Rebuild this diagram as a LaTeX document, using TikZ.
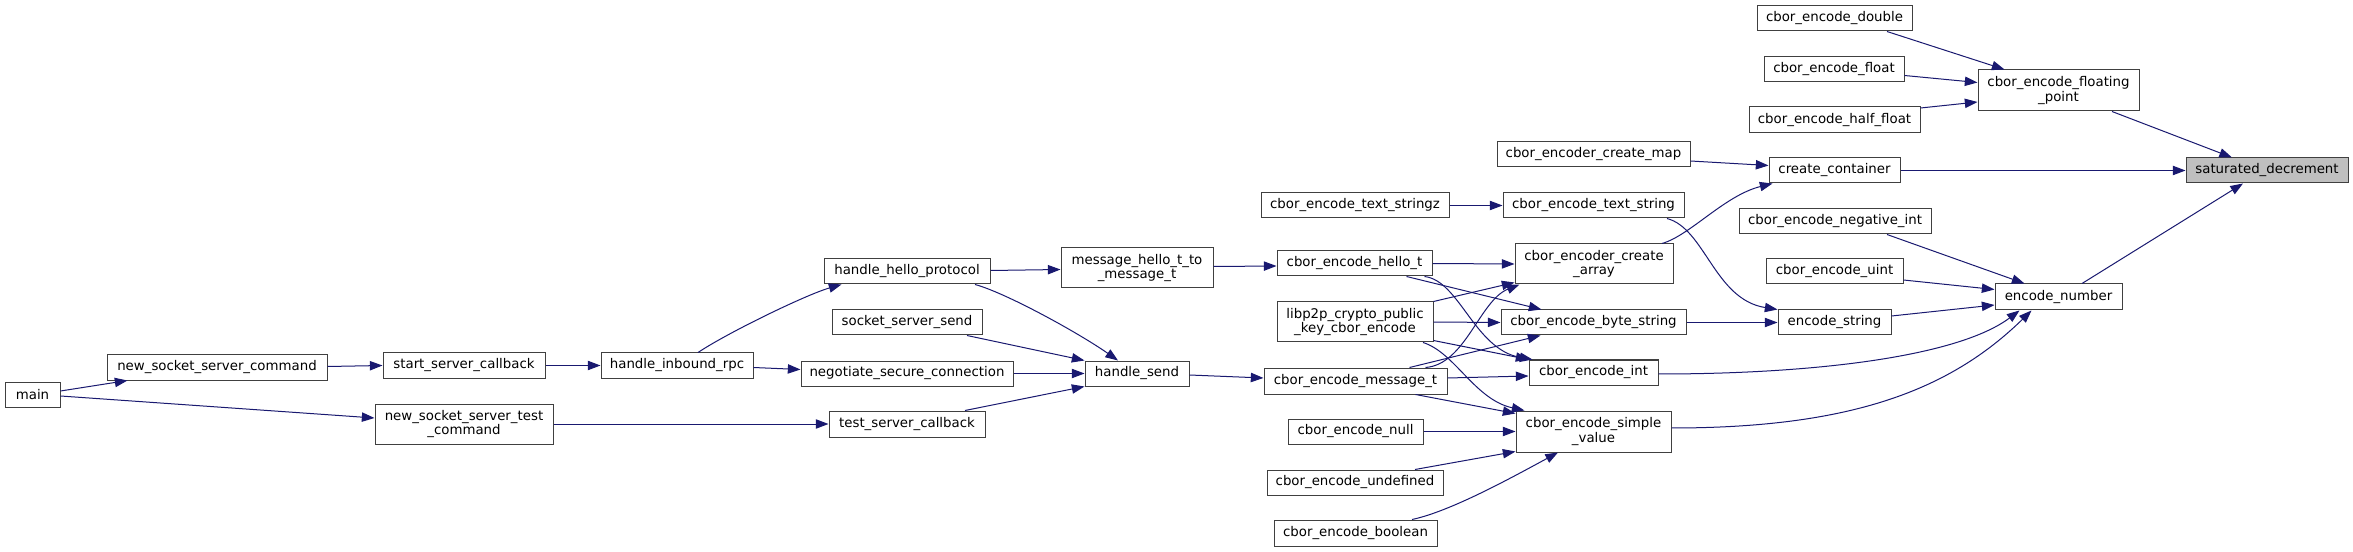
\documentclass[tikz,border=0pt]{standalone}
\usepackage{fontspec}
\setmainfont{DejaVu Sans}
\usetikzlibrary{arrows.meta,calc}
\definecolor{edgecol}{HTML}{191970}
\definecolor{boxcol}{HTML}{404040}
\definecolor{selcol}{HTML}{BFBFBF}
\tikzset{
  box/.style={draw=boxcol, fill=white, line width=0.75pt, inner sep=0pt, align=center,
    font=\fontsize{10}{11}\selectfont, text=black},
  edge/.style={draw=edgecol, line width=0.75pt, -{Triangle[length=9.5pt,width=7pt]}}
}
\newcommand\bx[7][]{\node[box,#1,minimum width={(#4-#2)*0.75pt},minimum height={(#5-#3)*0.75pt}] (#6) at ({(#2+#4)/2},{(#3+#5)/2}) {#7};}
\begin{document}
\begin{tikzpicture}[x=0.75pt,y=-0.75pt]
\fill[white] (0,0) rectangle (2353,552);
\useasboundingbox (0,0) rectangle (2353,552);
% nodes: x1 y1 x2 y2
\bx{5}{382}{60}{407}{main}{main}
\bx{107}{355}{327}{380}{nssc}{new\_socket\_server\_command}
\bx{375}{404}{553}{444}{nsstc}{new\_socket\_server\_test\\\_command}
\bx{383}{353}{545}{378}{ssc}{start\_server\_callback}
\bx{601}{353}{753}{378}{hir}{handle\_inbound\_rpc}
\bx{824}{259}{990}{284}{hhp}{handle\_hello\_protocol}
\bx{1061}{248}{1213}{288}{mht}{message\_hello\_t\_to\\\_message\_t}
\bx{832}{310}{982}{335}{sss}{socket\_server\_send}
\bx{801}{361}{1013}{386}{nsc}{negotiate\_secure\_connection}
\bx{829}{411}{985}{437}{tsc}{test\_server\_callback}
\bx{1085}{361}{1189}{386}{hs}{handle\_send}
\bx{1497}{142}{1690}{167}{cecm}{cbor\_encoder\_create\_map}
\bx{1261}{193}{1449}{218}{cetz}{cbor\_encode\_text\_stringz}
\bx{1503}{193}{1684}{218}{cets}{cbor\_encode\_text\_string}
\bx{1277}{251}{1432}{276}{ceht}{cbor\_encode\_hello\_t}
\bx{1515}{244}{1673}{284}{ceca}{cbor\_encoder\_create\\\_array}
\bx{1277}{302}{1433}{342}{lib}{libp2p\_crypto\_public\\\_key\_cbor\_encode}
\bx{1501}{310}{1686}{335}{cebs}{cbor\_encode\_byte\_string}
\bx{1264}{368}{1447}{394}{cemt}{cbor\_encode\_message\_t}
\bx{1529}{360}{1658}{385}{cei}{cbor\_encode\_int}
\bx{1516}{411}{1671}{452}{cesv}{cbor\_encode\_simple\\\_value}
\bx{1288}{419}{1423}{444}{cen}{cbor\_encode\_null}
\bx{1267}{470}{1443}{495}{ceu}{cbor\_encode\_undefined}
\bx{1274}{520}{1437}{546}{ceb}{cbor\_encode\_boolean}
\bx{1757}{6}{1912}{31}{ced}{cbor\_encode\_double}
\bx{1764}{57}{1904}{82}{cef}{cbor\_encode\_float}
\bx{1749}{107}{1920}{133}{cehf}{cbor\_encode\_half\_float}
\bx{1769}{158}{1900}{183}{cc}{create\_container}
\bx{1739}{209}{1931}{234}{ceni}{cbor\_encode\_negative\_int}
\bx{1766}{259}{1903}{284}{ceui}{cbor\_encode\_uint}
\bx{1778}{310}{1891}{335}{es}{encode\_string}
\bx{1978}{70}{2139}{111}{cefp}{cbor\_encode\_floating\\\_point}
\bx[fill=selcol]{2186}{158}{2348}{183}{sd}{saturated\_decrement}
\bx{1995}{284}{2122}{310}{en}{encode\_number}
% edges
\draw[edge] ($(main.east)+(0,-3.5)$) -- ($(nssc.south west)+(21,0)$);
\draw[edge] ($(main.east)+(0,1.5)$) -- ($(nsstc.west)+(0,-6)$);
\draw[edge] ($(nssc.east)+(0,-1)$) -- (ssc.west);
\draw[edge] (nsstc.east) -- (tsc.west);
\draw[edge] (ssc.east) -- (hir.west);
\draw[edge] ($(hir.north)+(21,0)$) .. controls +(30,-20) and +(-35,10) .. ($(hhp.south west)+(18,0)$);
\draw[edge] ($(hir.east)+(0,2)$) -- ($(nsc.west)+(0,-4)$);
\draw[edge] ($(hhp.east)+(0,-1)$) -- ($(mht.west)+(0,1.5)$);
\draw[edge] ($(hhp.south)+(68,0)$) .. controls +(30,8) and +(-40,-28) .. ($(hs.north)+(-19,0)$);
\draw[edge] ($(sss.south)+(60,0)$) -- (hs.north west);
\draw[edge] (nsc.east) -- (hs.west);
\draw[edge] ($(tsc.north)+(58,0)$) -- (hs.south west);
\draw[edge] ($(hs.east)+(0,1.5)$) -- ($(cemt.west)+(0,-3)$);
\draw[edge] ($(mht.east)+(0,-1.5)$) -- ($(ceht.west)+(0,2.5)$);
\draw[edge] (cetz.east) -- (cets.west);
\draw[edge] (ceht.east) -- (ceca.west);
\draw[edge] ($(ceht.south)+(52,0)$) -- ($(cebs.north west)+(41,0)$);
\draw[edge] ($(ceht.south)+(70,0)$) .. controls +(35,4) and +(-58,-10) .. ($(cei.north west)+(4,0)$);
\draw[edge] (lib.north east) -- ($(ceca.south west)+(0,-2)$);
\draw[edge] (lib.east) -- (cebs.west);
\draw[edge] ($(lib.south east)+(0,-2)$) -- (cei.north west);
\draw[edge] ($(lib.south)+(68,0)$) .. controls +(32,10) and +(-50,-11) .. ($(cesv.north west)+(9,0)$);
\draw[edge] ($(cemt.north)+(70,0)$) .. controls +(40,-3) and +(-40,16) .. ($(ceca.south west)+(5,0)$);
\draw[edge] ($(cemt.north)+(54,0)$) -- ($(cebs.south west)+(40,0)$);
\draw[edge] ($(cemt.east)+(0,-3)$) -- ($(cei.west)+(0,3.5)$);
\draw[edge] ($(cemt.south)+(60,0)$) -- ($(cesv.north west)+(0,3)$);
\draw[edge] (cen.east) -- (cesv.west);
\draw[edge] ($(ceu.north)+(60,0)$) -- ($(cesv.south west)+(0,-1)$);
\draw[edge] ($(ceb.north)+(56.5,0)$) .. controls +(38,-8) and +(-48,26) .. ($(cesv.south)+(-35.5,0)$);
\draw[edge] ($(ced.south)+(52.5,0)$) -- ($(cefp.north west)+(27,0)$);
\draw[edge] ($(cef.east)+(0,6)$) -- ($(cefp.west)+(0,-8)$);
\draw[edge] ($(cehf.north east)+(0,1.5)$) -- ($(cefp.west)+(0,11.5)$);
\draw[edge] ($(cecm.east)+(0,6.5)$) -- ($(cc.west)+(0,-5)$);
\draw[edge] ($(ceca.north)+(68,0)$) .. controls +(28,-8) and +(-48,12) .. ($(cc.south west)+(4,0)$);
\draw[edge] ($(cets.south)+(73.5,0)$) .. controls +(38,10) and +(-63,-10) .. (es.north west);
\draw[edge] (cebs.east) -- (es.west);
\draw[edge] ($(cei.east)+(0,1.5)$) .. controls +(162,0) and +(-60,45) .. ($(en.south west)+(25,0)$);
\draw[edge] ($(cesv.east)+(0,-3.5)$) .. controls +(179,0) and +(-82,80) .. ($(en.south west)+(37,0)$);
\draw[edge] ($(ceni.south)+(52,0)$) -- ($(en.north west)+(30,0)$);
\draw[edge] ($(ceui.east)+(0,8.5)$) -- ($(en.west)+(0,-7.5)$);
\draw[edge] ($(es.east)+(0,-6.5)$) -- ($(en.west)+(0,8)$);
\draw[edge] ($(cefp.south)+(53.5,0)$) -- ($(sd.north)+(-35,0)$);
\draw[edge] (cc.east) -- (sd.west);
\draw[edge] ($(en.north)+(23.5,0)$) -- ($(sd.south)+(-24,0)$);
\end{tikzpicture}
\end{document}
